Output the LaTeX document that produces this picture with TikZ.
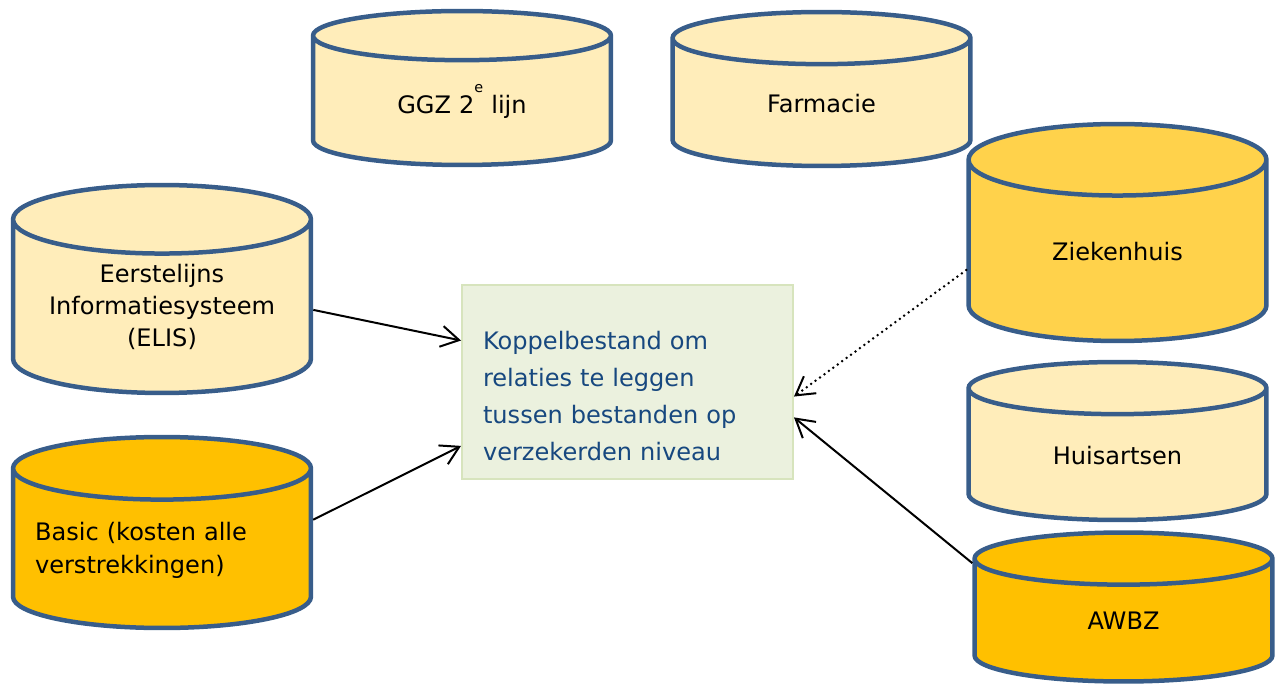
\documentclass[tikz,border=0pt]{standalone}
\usepackage{fontspec}
\setmainfont{DejaVu Sans}
\usepackage{xcolor}
\usepackage{tikz}
\usetikzlibrary{positioning,shapes.geometric,arrows.meta}
\definecolor{rand}{HTML}{385D8A}
\definecolor{licht}{HTML}{FFEDBA}
\definecolor{goud}{HTML}{FFD24B}
\definecolor{oranje}{HTML}{FFC000}
\definecolor{koppelfill}{HTML}{EBF1DE}
\definecolor{koppelrand}{HTML}{D7E4BD}
\definecolor{koppeltekst}{HTML}{17487F}
\tikzset{
	pijl/.style={-{Straight Barb[length=0.36cm,width=0.42cm,line width=0.04cm]}, line width=0.04cm},
	stippel/.style={pijl, line width=0.055cm, line cap=round, dash pattern=on 0pt off 0.11cm}
}

\begin{document}
\begin{tikzpicture}[x=0.02cm, y=-0.02cm,
	dbnode/.style={cylinder, shape border rotate=90, draw=rand, line width=0.09cm,
		minimum width=5.96cm, inner sep=0pt, text width=5.96cm, anchor=shape center,
		font=\fontsize{13.7}{18.2}\selectfont, align=center},
	koppelnode/.style={rectangle, draw=koppelrand, fill=koppelfill, line width=0.04cm,
		minimum width=6.62cm, minimum height=3.88cm, inner xsep=0.42cm, text width=5.78cm,
		align=left, text=koppeltekst, font=\fontsize{13.7}{21}\selectfont},
	]
	\useasboundingbox (0,0) rectangle (1277,685);

	%Nodes
	\node[dbnode, fill=licht, minimum height=3.08cm, aspect=0.165]  (ggz)      at (462,88)     {GGZ 2\raisebox{0.85em}{\fontsize{8.2}{8.2}\selectfont e} lijn};
	\node[dbnode, fill=licht, minimum height=3.08cm, aspect=0.175]  (farmacie) at (821.5,89)   {Farmacie};
	\node[dbnode, fill=goud, minimum height=4.34cm, aspect=0.24]    (zkh)      at (1117.5,232.5) {Ziekenhuis};
	\node[dbnode, fill=licht, minimum height=4.16cm, aspect=0.23]   (elis)     at (162,289)    {Eerstelijns\\Informatiesysteem\\(ELIS)};
	\node[dbnode, fill=oranje, minimum height=3.82cm, aspect=0.21, text width=5.08cm, inner xsep=0.44cm,
		align=left, font=\fontsize{13.7}{18.8}\selectfont]           (basic)    at (162,532.5)  {Basic (kosten alle\\verstrekkingen)\rule[-0.39cm]{0pt}{0pt}};
	\node[dbnode, fill=licht, minimum height=3.16cm, aspect=0.175]  (huisarts) at (1117.5,441) {Huisartsen};
	\node[dbnode, fill=oranje, minimum height=2.98cm, aspect=0.175] (awbz)     at (1123.5,607) {AWBZ};
	\node[koppelnode] (koppel) at (627.5,382) {\rule{0pt}{0.92cm}Koppelbestand om\\relaties te leggen\\tussen bestanden op\\verzekerden niveau};

	%Lines
	\draw[pijl] (elis.-1) -- (koppel.166);
	\draw[pijl] (basic.14) -- (koppel.201);
	\draw[stippel] (zkh.187) -- (koppel.-5);
	\draw[pijl] (awbz.159) -- (koppel.-12);
\end{tikzpicture}
\end{document}
